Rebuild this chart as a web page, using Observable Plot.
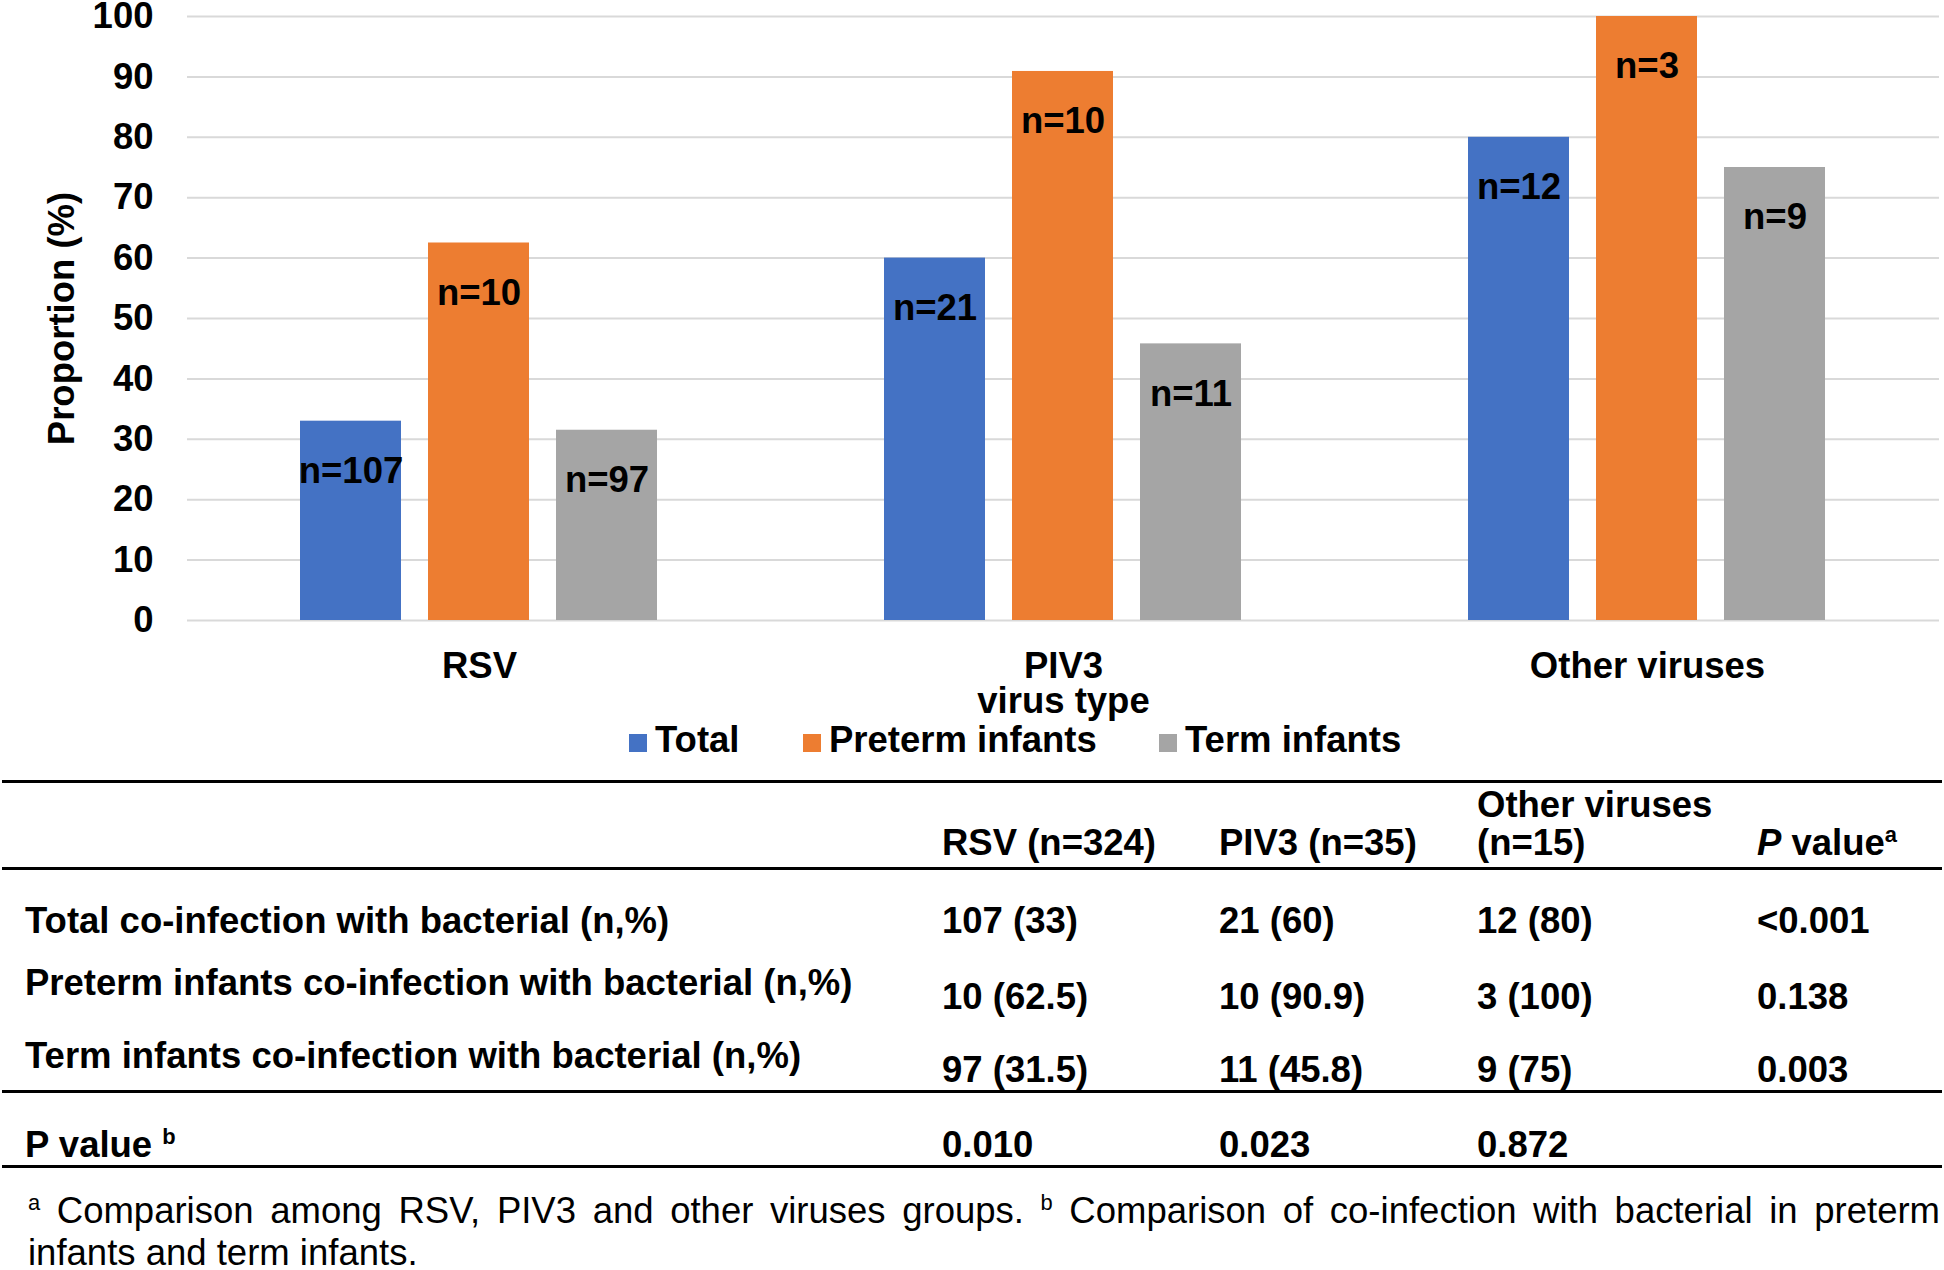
<!DOCTYPE html>
<html>
<head>
<meta charset="utf-8">
<script src="https://cdn.jsdelivr.net/npm/d3@7"></script>
<script src="https://cdn.jsdelivr.net/npm/@observablehq/plot@0.6"></script>
<style>
  html, body { margin: 0; padding: 0; background: #fff; overflow: hidden; }
  body { width: 1944px; height: 1270px; font-family: "Liberation Sans", Arial, sans-serif; color: #000; }
  #chart svg { display: block; }
  #legend { position: relative; height: 60px; font-size: 36.5px; font-weight: bold; line-height: 40px; }
  #legend .item { position: absolute; top: 0; white-space: nowrap; }
  #legend .sw { display: inline-block; width: 18px; height: 18px; margin-right: 8px; vertical-align: baseline; }
  table.tbl { margin-left: 2px; width: 1940px; table-layout: fixed; border-collapse: separate; border-spacing: 0; font-size: 36.5px; font-weight: bold; }
  table.tbl td { padding: 0; vertical-align: top; line-height: 40px; white-space: nowrap; }
  table.tbl td.lab { padding-left: 23px; }
  table.tbl tr.head td { border-top: 3px solid #000; border-bottom: 3px solid #000; height: 79px; vertical-align: bottom; line-height: 38px; padding-bottom: 5px; white-space: pre-line; }
  table.tbl tr.head td.lab { padding-left: 23px; }
  table.tbl tr.r0 td { height: 90px; padding-top: 31px; box-sizing: border-box; }
  table.tbl tr.r1 td { height: 74px; padding-top: 17px; box-sizing: border-box; }
  table.tbl tr.r1 td.lab { padding-top: 3px; }
  table.tbl tr.r2 td { height: 56px; padding-top: 16px; box-sizing: border-box; border-bottom: 3px solid #000; }
  table.tbl tr.r2 td.lab { padding-top: 2px; }
  table.tbl tr.pb td { height: 74px; padding-top: 32px; box-sizing: border-box; border-bottom: 3px solid #000; }
  table.tbl sup { font-size: 0.6em; line-height: 0; vertical-align: super; }
  #foot { margin-top: 22px; margin-left: 28px; width: 1912px; font-size: 36.5px; line-height: 42px; text-align: justify; font-weight: normal; }
  #foot sup { font-size: 0.6em; line-height: 0; vertical-align: super; }
</style>
</head>
<body>
<div id="chart"></div>
<div id="legend"></div>
<div id="table"></div>
<div id="foot"></div>
<script>
// ---- Chart data ----
const viruses = ["RSV", "PIV3", "Other viruses"];
const groups = ["Total", "Preterm infants", "Term infants"];
const totalPct = [33, 60, 80];
const pretermPct = [62.5, 90.9, 100];
const termPct = [31.5, 45.8, 75];
const totalN = [107, 21, 12];
const pretermN = [10, 10, 3];
const termN = [97, 11, 9];
const yTicks = [0, 10, 20, 30, 40, 50, 60, 70, 80, 90, 100];
const colors = ["#4472C4", "#ED7D31", "#A5A5A5"];

// ---- Table data ----
const colHeaders = ["RSV (n=324)", "PIV3 (n=35)", "Other viruses\n(n=15)"];
const rowLabels = [
  "Total co-infection with bacterial (n,%)",
  "Preterm infants co-infection with bacterial (n,%)",
  "Term infants co-infection with bacterial (n,%)"
];
const rsvCells = ["107 (33)", "10 (62.5)", "97 (31.5)"];
const piv3Cells = ["21 (60)", "10 (90.9)", "11 (45.8)"];
const otherCells = ["12 (80)", "3 (100)", "9 (75)"];
const pValueA = ["<0.001", "0.138", "0.003"];
const pValueB = ["0.010", "0.023", "0.872"];
const footA = "Comparison among RSV, PIV3 and other viruses groups.";
const footB = "Comparison of co-infection with bacterial in preterm infants and term infants.";

// ---- Build chart ----
const pctSeries = [totalPct, pretermPct, termPct];
const nSeries = [totalN, pretermN, termN];
const data = viruses.flatMap((v, i) =>
  groups.map((g, j) => ({virus: v, group: g, pct: pctSeries[j][i], n: nSeries[j][i]}))
);

const FS = 36.5;
const chart = Plot.plot({
  width: 1944,
  height: 720,
  marginTop: 16,
  marginBottom: 100,
  marginLeft: 186,
  marginRight: 4,
  style: {fontFamily: "'Liberation Sans', Arial, sans-serif", fontSize: FS + "px", fontWeight: "bold", color: "#000", background: "#fff", overflow: "visible"},
  fx: {domain: viruses, padding: 0},
  x: {domain: groups, paddingInner: 0.21, paddingOuter: 0.875, axis: null},
  y: {domain: [0, 100]},
  color: {domain: groups, range: colors},
  marks: [
    Plot.gridY(yTicks, {stroke: "#d9d9d9", strokeOpacity: 1, strokeWidth: 2}),
    Plot.barY(data, {fx: "virus", x: "group", y: "pct", fill: "group"}),
    Plot.text(data, {fx: "virus", x: "group", y: "pct", text: d => `n=${d.n}`, dy: 50, fontSize: FS, fontWeight: "bold", fill: "#000"}),
    Plot.axisY(yTicks, {tickSize: 0, tickPadding: 34, fontSize: FS, fontWeight: "bold",
      label: "Proportion (%)", labelAnchor: "center", labelArrow: "none", labelOffset: 139}),
    Plot.axisFx({anchor: "bottom", tickSize: 0, tickPadding: 32, fontSize: FS, fontWeight: "bold",
      label: "virus type", labelAnchor: "center", labelArrow: "none", labelOffset: 92})
  ]
});
document.getElementById("chart").appendChild(chart);

// ---- Legend ----
const legendLeft = [629, 803, 1159];
const legend = document.getElementById("legend");
groups.forEach((g, i) => {
  const item = document.createElement("div");
  item.className = "item";
  item.style.left = legendLeft[i] + "px";
  const sw = document.createElement("span");
  sw.className = "sw";
  sw.style.background = colors[i];
  item.appendChild(sw);
  item.appendChild(document.createTextNode(g));
  legend.appendChild(item);
});

// ---- Table ----
function esc(s) { return s.replace(/&/g, "&amp;").replace(/</g, "&lt;").replace(/>/g, "&gt;"); }
let html = '<table class="tbl"><colgroup>' +
  '<col style="width:940px"><col style="width:277px"><col style="width:258px"><col style="width:280px"><col style="width:185px">' +
  '</colgroup>';
html += '<tr class="head"><td class="lab"></td>' +
  colHeaders.map(h => `<td>${esc(h)}</td>`).join("") +
  '<td><i>P</i> value<sup>a</sup></td></tr>';
rowLabels.forEach((lab, i) => {
  html += `<tr class="r${i}"><td class="lab">${esc(lab)}</td><td>${esc(rsvCells[i])}</td><td>${esc(piv3Cells[i])}</td><td>${esc(otherCells[i])}</td><td>${esc(pValueA[i])}</td></tr>`;
});
html += `<tr class="pb"><td class="lab">P value <sup>b</sup></td>` +
  pValueB.map(p => `<td>${esc(p)}</td>`).join("") + '<td></td></tr>';
html += '</table>';
document.getElementById("table").innerHTML = html;

// ---- Footnote ----
document.getElementById("foot").innerHTML =
  `<sup>a</sup> ${esc(footA)} <sup>b</sup> ${esc(footB)}`;
</script>
</body>
</html>
